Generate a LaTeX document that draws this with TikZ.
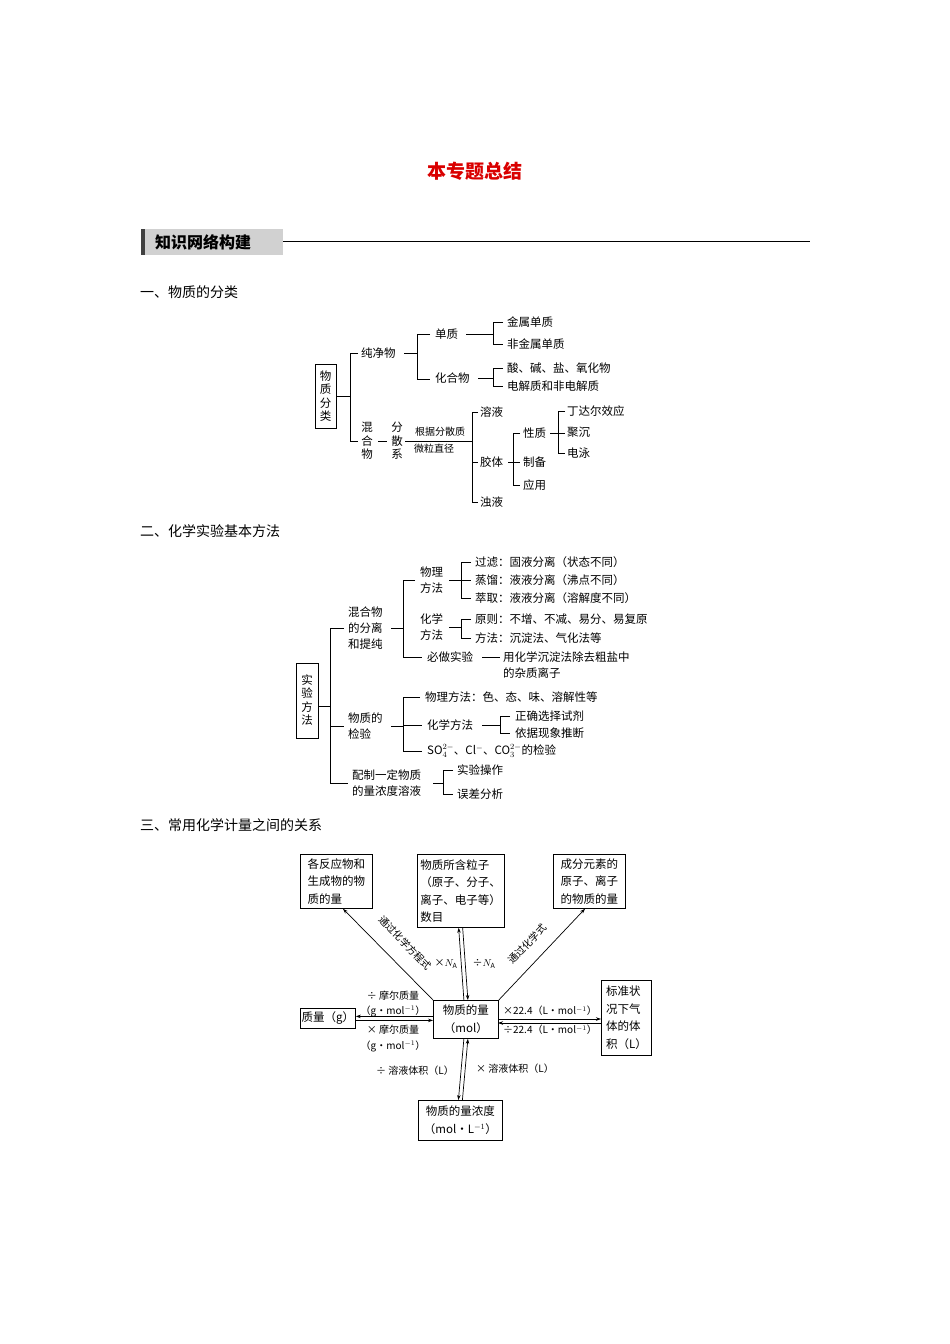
\documentclass[tikz,border=0pt]{standalone}
\usepackage{fontspec}
\setmainfont{Noto Sans CJK SC}
\usetikzlibrary{arrows.meta}
\begin{document}
\begin{tikzpicture}[x=1pt,y=-1pt,
  t/.style={anchor=west,inner sep=0pt,font=\fontsize{11.5}{16}\selectfont},
  vt/.style={anchor=center,inner sep=0pt,align=center,font=\fontsize{11.5}{13.5}\selectfont},
  s/.style={anchor=center,inner sep=0pt,font=\fontsize{10}{12}\selectfont},
  bx/.style={draw,thick,inner sep=3pt,font=\fontsize{11.5}{17.5}\selectfont},
  ln/.style={line width=0.7pt},
  ar/.style={line width=0.7pt,-{Stealth[length=5pt,width=3.5pt]}},
  sec/.style={anchor=west,inner sep=0pt,font=\fontsize{14}{16}\selectfont}]
\useasboundingbox (0,0) rectangle (950,1344);
% header
\node[font=\fontsize{19}{22}\selectfont\bfseries,text=red!85!black] (title) at (475,171) {本专题总结};
\fill[black!18] (145,229) rectangle (283,255);
\fill[black!75] (141,229) rectangle (145,255);
\node[anchor=west,inner sep=0pt,font=\fontsize{16}{18}\selectfont\bfseries] (kh) at (155,242) {知识网络构建};
\draw[line width=0.5pt] (283,241) -- (810,241);
\node[sec] (s1) at (140,292) {一、物质的分类};
\node[sec] (s2) at (140,531) {二、化学实验基本方法};
\node[sec] (s3) at (140,825) {三、常用化学计量之间的关系};

% ===== part 1
\draw[thick] (315,364) rectangle (336,428);
\node[vt] (wzfl) at (325.5,396) {物\\质\\分\\类};
\draw[ln] (336,396) -- (350,396) (358,353) -- (350,353) -- (350,441) -- (358,441);
\node[t] (cjw) at (361,353) {纯净物};
\node[vt] (hhw) at (367,441) {混\\合\\物};
\draw[ln] (404,353) -- (417,353) (430,334) -- (417,334) -- (417,379) -- (430,379);
\node[t] (dz) at (435,334) {单质};
\node[t] (hhw2) at (435,378) {化合物};
\draw[ln] (466,334) -- (493,334) (503,322) -- (493,322) -- (493,344) -- (503,344);
\node[t] (jsdz) at (507,322) {金属单质};
\node[t] (fjsdz) at (507,344) {非金属单质};
\draw[ln] (478,378) -- (493,378) (503,368) -- (493,368) -- (493,386) -- (503,386);
\node[t] (sjy) at (507,368) {酸、碱、盐、氧化物};
\node[t] (djz) at (507,386) {电解质和非电解质};
\draw[ln] (378,441) -- (387,441);
\node[vt] (fsx) at (397,441) {分\\散\\系};
\draw[ln] (405,441) -- (472,441);
\node[s] (gj) at (440,432) {根据分散质};
\node[s] (wl) at (434,449) {微粒直径};
\draw[ln] (478,412) -- (472,412) -- (472,502) -- (478,502) (472,462) -- (478,462);
\node[t] (ry) at (480,412) {溶液};
\node[t] (jt) at (480,462) {胶体};
\node[t] (zy) at (480,502) {浊液};
\draw[ln] (508,462) -- (520,462) (520,433) -- (513,433) -- (513,485) -- (520,485);
\node[t] (xz) at (523,433) {性质};
\node[t] (zb) at (523,462) {制备};
\node[t] (yy) at (523,485) {应用};
\draw[ln] (550,433) -- (565,433) (565,411) -- (558,411) -- (558,453) -- (565,453);
\node[t] (tde) at (567,411) {丁达尔效应};
\node[t] (jc) at (567,432) {聚沉};
\node[t] (dy) at (567,453) {电泳};

% ===== part 2
\draw[thick] (296,663) rectangle (318,738);
\node[vt] (syff) at (307,700) {实\\验\\方\\法};
\draw[ln] (318,706) -- (330,706) (344,628) -- (330,628) -- (330,783) -- (348,783) (330,726) -- (344,726);
\node[t,align=left] (hhfl) at (348,628) {混合物\\的分离\\和提纯};
\node[t,align=left] (wzjy) at (348,726) {物质的\\检验};
\node[t,align=left] (pz) at (352,783) {配制一定物质\\的量浓度溶液};
\draw[ln] (391,628) -- (403,628) (415,580) -- (403,580) -- (403,657) -- (422,657);
\node[t,align=left] (wlff) at (420,580) {物理\\方法};
\node[t,align=left] (hxff) at (420,627) {化学\\方法};
\node[t] (bzsy) at (427,657) {必做实验};
\draw[ln] (449,580) -- (461,580) (471,562) -- (461,562) -- (461,598) -- (471,598) (461,580) -- (471,580);
\node[t] (gl) at (475,562) {过滤：固液分离（状态不同）};
\node[t] (zl) at (475,580) {蒸馏：液液分离（沸点不同）};
\node[t] (cq) at (475,598) {萃取：液液分离（溶解度不同）};
\draw[ln] (449,627) -- (461,627) (471,619) -- (461,619) -- (461,638) -- (471,638);
\node[t] (yz) at (475,619) {原则：不增、不减、易分、易复原};
\node[t] (ff) at (475,638) {方法：沉淀法、气化法等};
\draw[ln] (482,657) -- (500,657);
\node[t,align=left] (yhx) at (503,665) {用化学沉淀法除去粗盐中\\的杂质离子};
\draw[ln] (391,726) -- (403,726) (420,697) -- (403,697) -- (403,751) -- (422,751) (403,725) -- (422,725);
\node[t] (wlff2) at (425,697) {物理方法：色、态、味、溶解性等};
\node[t] (hxff2) at (427,725) {化学方法};
\node[t] (ljy) at (427,751) {SO$_4^{2-}$、Cl$^-$、CO$_3^{2-}$的检验};
\draw[ln] (482,725) -- (500,725) (510,716) -- (500,716) -- (500,733) -- (510,733);
\node[t] (zq) at (515,716) {正确选择试剂};
\node[t] (yj) at (515,733) {依据现象推断};
\draw[ln] (433,783) -- (443,783) (453,770) -- (443,770) -- (443,794) -- (453,794);
\node[t] (sycz) at (457,770) {实验操作};
\node[t] (wc) at (457,794) {误差分析};

% ===== part 3
\node[bx,minimum width=72pt,minimum height=54pt,anchor=north west,align=left] (A) at (300,854) {各反应物和\\生成物的物\\质的量};
\node[bx,minimum width=76pt,minimum height=73pt,anchor=north west,align=left] (B) at (417,854) {物质所含粒子\\（原子、分子、\\离子、电子等）\\数目};
\node[bx,minimum width=72pt,minimum height=54pt,anchor=north west,align=left] (C) at (553,854) {成分元素的\\原子、离子\\的物质的量};
\node[bx,minimum width=65pt,minimum height=38pt,anchor=north west,align=center] (M) at (433,1000) {物质的量\\（mol）};
\node[bx,minimum width=55pt,minimum height=20pt,inner sep=1pt,anchor=north west] (G) at (300,1008) {质量（g）};
\node[bx,minimum width=50pt,minimum height=75pt,anchor=north west,align=left] (V) at (601,980) {标准状\\况下气\\体的体\\积（L）};
\node[bx,minimum width=84pt,minimum height=40pt,anchor=north west,align=center] (Cn) at (418,1100) {物质的量浓度\\（mol·L$^{-1}$）};

\draw[ar] (M.north west) -- (A.south -| 343,0);
\draw[ar] (M.north east) -- (C.south -| 585,0);
\node[s,rotate=-46] (l1) at (405,943) {通过化学方程式};
\node[s,rotate=46] (l2) at (527,944) {通过化学式};
% vertical top
\draw[ar] ([xshift=-2pt]M.north) -- ([xshift=-2pt]B.south);
\draw[ar] ([xshift=2pt]B.south) -- ([xshift=2pt]M.north);
\node[s] (na1) at (446,964) {×$N_\mathrm{A}$};
\node[s] (na2) at (484,964) {÷$N_\mathrm{A}$};
% left
\draw[ar] ([yshift=-2pt]G.east) -- ([yshift=-2pt]G.east -| M.west);
\draw[ar] ([yshift=2pt]G.east -| M.west) -- ([yshift=2pt]G.east);
\node[s] (m1) at (393,996) {÷ 摩尔质量};
\node[s] (m2) at (393,1011) {（g·mol$^{-1}$）};
\node[s] (m3) at (393,1030) {× 摩尔质量};
\node[s] (m4) at (393,1046) {（g·mol$^{-1}$）};
% right
\draw[ar] (498,1019) -- (V.west |- 0,1019);
\draw[ar] (V.west |- 0,1023) -- (498,1023);
\node[s] (v1) at (550,1011) {×22.4（L·mol$^{-1}$）};
\node[s] (v2) at (550,1030) {÷22.4（L·mol$^{-1}$）};
% bottom
\draw[ar] ([xshift=-2pt]M.south) -- ([xshift=-2pt]Cn.north);
\draw[ar] ([xshift=2pt]Cn.north) -- ([xshift=2pt]M.south);
\node[s] (c1) at (415,1071) {÷ 溶液体积（L）};
\node[s] (c2) at (515,1069) {× 溶液体积（L）};
\end{tikzpicture}
\end{document}
